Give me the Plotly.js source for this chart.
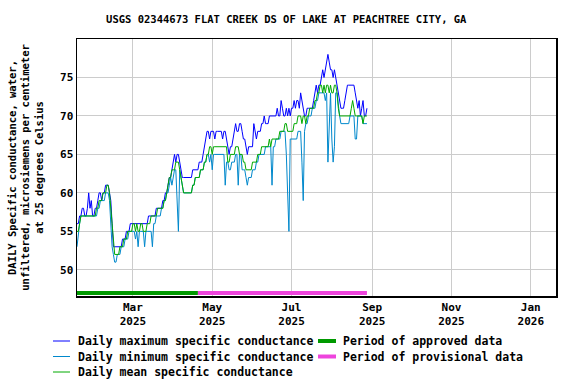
<!DOCTYPE html>
<html>
<head>
<meta charset="utf-8">
<script src="https://cdn.plot.ly/plotly-3.0.1.min.js"></script>
<style>html,body{margin:0;padding:0;background:#fff;}#chart{width:576px;height:384px;}</style>
</head>
<body>
<div id="chart"></div>
<script>
// Daily data starting on this date, one value per day
const startDate = '2025-01-17';

const dailyMax = [
  56,56,57,57,58,58,57,57,58,60,
  58,59,57,57,58,58,59,60,60,59,
  60,60,61,61,61,60,59,56,53,53,
  53,53,53,53,53,54,54,54,55,55,
  55,56,56,56,56,56,56,56,56,56,
  56,56,56,56,56,57,57,57,57,57,
  57,58,58,58,58,58,59,59,60,60,
  61,62,62,63,64,65,64,65,65,64,
  63,62,62,62,62,62,62,62,62,63,
  63,63,63,63,64,64,64,65,66,67,
  68,68,67,68,68,68,67,68,68,68,
  68,68,67,68,68,67,66,65,66,66,
  67,68,69,68,68,69,69,68,67,67,
  66,65,66,66,66,66,69,68,67,68,
  68,68,69,69,70,69,69,69,70,70,
  70,70,70,70,71,70,70,72,71,70,
  70,71,70,71,70,71,71,72,71,72,
  72,71,73,72,71,70,70,71,71,71,
  71,71,72,73,74,73,74,74,75,76,
  75,76,77,78,77,76,76,75,76,75,
  74,73,72,71,71,71,72,73,74,74,
  74,74,74,74,73,72,71,72,70,71,
  72,70,70,71
];

const dailyMin = [
  53,55,56,57,57,57,57,57,57,57,
  57,57,57,57,57,57,58,58,59,59,
  59,59,60,60,60,59,55,53,52,51,
  51,52,52,52,53,53,53,54,54,54,
  55,55,55,55,55,54,55,53,55,55,
  55,55,53,55,55,55,55,55,53,56,
  56,57,57,57,57,58,58,59,59,60,
  60,61,62,61,62,63,63,59,55,63,
  62,61,60,60,60,60,60,60,60,61,
  61,62,62,62,62,63,63,63,64,64,
  65,65,64,65,63,65,65,65,65,65,
  65,65,65,65,61,64,64,63,63,64,
  64,64,65,65,61,65,65,63,63,63,
  62,61,62,62,62,63,63,63,64,64,
  65,65,65,65,65,66,66,66,66,66,
  61,66,66,67,67,67,67,68,68,68,
  68,65,60,55,67,67,67,67,67,67,
  68,68,68,64,59,68,69,69,70,70,
  70,71,71,71,72,72,73,73,73,73,
  73,72,73,64,68,73,67,64,66,73,
  73,71,70,69,69,69,69,69,69,69,
  70,70,70,70,67,67,70,70,70,70,
  69,69,69,69
];

const dailyMean = [
  55,55,56,57,57,57,57,57,57,57,
  57,57,57,57,57,58,58,59,59,59,
  60,60,60,61,61,60,58,55,53,52,
  52,52,52,53,53,53,54,54,54,55,
  55,55,55,56,56,55,56,55,55,56,
  56,55,55,55,56,56,56,57,57,57,
  57,57,58,58,58,58,58,59,59,60,
  61,62,62,63,63,63,64,64,64,63,
  62,61,60,60,60,60,60,60,60,61,
  61,62,62,62,62,63,63,63,64,64,
  65,65,66,66,65,66,66,66,66,66,
  66,66,66,66,66,66,64,64,65,65,
  65,65,66,66,66,65,65,65,64,64,
  63,63,63,63,63,64,64,64,64,65,
  65,65,66,66,66,66,66,66,67,66,
  67,67,67,67,67,67,68,68,68,68,
  69,69,68,68,68,68,68,69,69,69,
  70,70,70,69,70,70,69,70,70,71,
  71,71,71,72,72,73,73,74,74,73,
  74,73,74,74,73,74,73,73,74,74,
  73,71,70,70,70,70,70,70,70,70,
  70,71,72,71,70,70,70,70,70,70,
  69,70,70,70
];

// Periods of data status
const approvedPeriod = ['2025-01-17', '2025-04-20'];
const provisionalPeriod = ['2025-04-20', '2025-08-28'];
const periodBarLevel = 47.0;

// Axis ticks
const xTickVals = ['2025-03-01','2025-05-01','2025-07-01','2025-09-01','2025-11-01','2026-01-01'];
const xTickText = ['Mar<br>2025','May<br>2025','Jul<br>2025','Sep<br>2025','Nov<br>2025','Jan<br>2026'];
const yTickVals = [50,55,60,65,70,75];

// Legend labels
const legendNames = [
  'Daily maximum specific conductance',
  'Daily minimum specific conductance',
  'Daily mean specific conductance',
  'Period of approved data',
  'Period of provisional data'
];
const seriesColors = ['#0000ff', '#0088cc', '#00aa00', '#009900', '#ee44dd'];

// Build date list for each day of data
function dayDates(start, n) {
  const out = [];
  const d0 = new Date(start + 'T00:00:00Z');
  for (let i = 0; i < n; i++) {
    const d = new Date(d0.getTime() + i * 86400000);
    out.push(d.toISOString().slice(0, 10));
  }
  return out;
}
const dates = dayDates(startDate, dailyMax.length);

const FONT = 'DejaVu Sans Mono, monospace';
const boldFont = (size) => ({family: FONT, size: size, color: '#000', weight: 'bold'});

const traces = [
  {x: dates, y: dailyMax, type: 'scatter', mode: 'lines', name: legendNames[0],
   line: {color: seriesColors[0], width: 1}},
  {x: dates, y: dailyMin, type: 'scatter', mode: 'lines', name: legendNames[1],
   line: {color: seriesColors[1], width: 1}},
  {x: dates, y: dailyMean, type: 'scatter', mode: 'lines', name: legendNames[2],
   line: {color: seriesColors[2], width: 1}},
  {x: approvedPeriod, y: [periodBarLevel, periodBarLevel], type: 'scatter', mode: 'lines',
   name: legendNames[3], line: {color: seriesColors[3], width: 4}},
  {x: provisionalPeriod, y: [periodBarLevel, periodBarLevel], type: 'scatter', mode: 'lines',
   name: legendNames[4], line: {color: seriesColors[4], width: 4}}
];

// Custom legend (plot area: x 77..556 px, y 39..296 px)
const PL = 77, PW = 479, PT = 39, PH = 257;
const px2x = (px) => (px - PL) / PW;
const py2y = (py) => (PT + PH - py) / PH;
const legendSlots = [
  {lx0: 53, lx1: 70, tx: 76, y: 341, w: 1},
  {lx0: 53, lx1: 70, tx: 76, y: 356.5, w: 1},
  {lx0: 53, lx1: 70, tx: 76, y: 372, w: 1},
  {lx0: 318, lx1: 336, tx: 341, y: 341, w: 4},
  {lx0: 318, lx1: 336, tx: 341, y: 356.5, w: 4}
];
const shapes = legendSlots.map((s, i) => ({
  type: 'line', xref: 'paper', yref: 'paper',
  x0: px2x(s.lx0), x1: px2x(s.lx1), y0: py2y(s.y), y1: py2y(s.y),
  line: {color: seriesColors[i], width: s.w}
}));
const annotations = legendSlots.map((s, i) => ({
  xref: 'paper', yref: 'paper', x: px2x(s.tx), y: py2y(s.y),
  xanchor: 'left', yanchor: 'middle', showarrow: false,
  text: legendNames[i], font: boldFont(11.5)
}));

const layout = {
  width: 576, height: 384,
  margin: {l: 77, r: 20, t: 39, b: 88},
  paper_bgcolor: '#ffffff', plot_bgcolor: '#ffffff',
  font: boldFont(11),
  showlegend: false,
  title: {text: 'USGS 02344673 FLAT CREEK DS OF LAKE AT PEACHTREE CITY, GA',
          x: 0.497, xref: 'container', xanchor: 'center',
          y: 1 - 19 / 384, yref: 'container', yanchor: 'middle',
          font: boldFont(10.5)},
  xaxis: {type: 'date', range: ['2025-01-17', '2026-01-20 10:00'],
          tickmode: 'array', tickvals: xTickVals, ticktext: xTickText,
          showgrid: true, gridcolor: '#cccccc', gridwidth: 1,
          showline: true, linecolor: '#000', linewidth: 1.5, mirror: true,
          ticks: '', zeroline: false, tickfont: boldFont(11)},
  yaxis: {range: [46.6, 80], tickmode: 'array', tickvals: yTickVals,
          showgrid: true, gridcolor: '#cccccc', gridwidth: 1,
          showline: true, linecolor: '#000', linewidth: 1.5, mirror: true,
          ticks: '', zeroline: false, tickfont: boldFont(11),
          title: {text: 'DAILY Specific conductance, water,<br>unfiltered, microsiemens per centimeter<br>at 25 degrees Celsius',
                  standoff: 14, font: boldFont(10.5)}},
  shapes: shapes,
  annotations: annotations
};

Plotly.newPlot('chart', traces, layout, {staticPlot: true, displayModeBar: false});
</script>
</body>
</html>
